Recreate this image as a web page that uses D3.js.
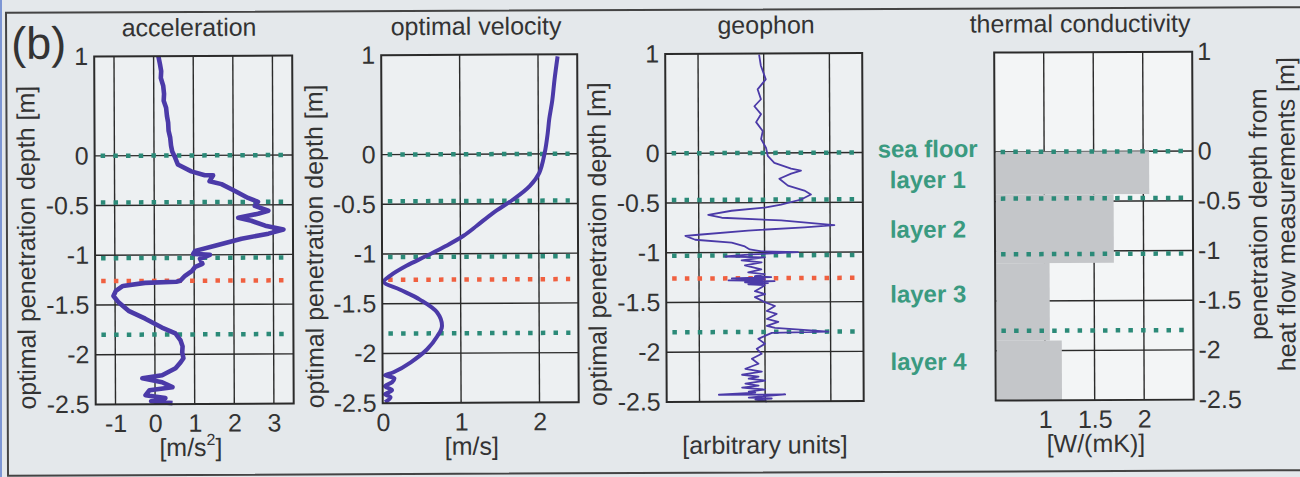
<!DOCTYPE html>
<html>
<head>
<meta charset="utf-8">
<script src="https://cdn.jsdelivr.net/npm/d3@7"></script>
<style>
  body { margin: 0; background: #e4e8eb; }
  svg { display: block; font-family: "Liberation Sans", Arial, sans-serif; }
</style>
</head>
<body>
<svg id="chart"></svg>
<script>
// depth axis shared by all four panels
const depthTicks = [1, 0, -0.5, -1, -1.5, -2, -2.5];
const depthGrid = [0, -0.5, -1, -1.5, -2];

// layer boundaries (teal) and the orange marker
const boundaryDepths = [0, -0.47, -1.03, -1.8];
const orangeDepth = [-1.26];

// acceleration [m/s2]
const accelDepth = [1.00, 0.92, 0.85, 0.78, 0.70, 0.62, 0.55, 0.48, 0.40, 0.33, 0.25, 0.18, 0.10, 0.04,
  -0.01, -0.09, -0.16, -0.20, -0.20, -0.26, -0.29, -0.36, -0.43, -0.47, -0.51, -0.56, -0.59, -0.63,
  -0.66, -0.71, -0.75, -0.79, -0.84, -0.91, -0.96, -0.99, -1.00, -1.04, -1.09, -1.12, -1.16, -1.21,
  -1.26, -1.27, -1.28, -1.31, -1.36, -1.41, -1.47, -1.56, -1.64, -1.73, -1.79, -1.86, -1.92, -1.98,
  -2.04, -2.08, -2.14, -2.21, -2.24, -2.28, -2.33, -2.36, -2.41, -2.44, -2.47, -2.49];
const accelValue = [0.12, 0.16, 0.19, 0.18, 0.24, 0.26, 0.25, 0.31, 0.33, 0.36, 0.37, 0.41, 0.43, 0.46,
  0.52, 0.60, 0.94, 1.28, 1.49, 1.40, 1.70, 2.04, 2.37, 2.62, 2.54, 2.88, 2.62, 2.12,
  2.45, 2.80, 3.26, 2.88, 2.20, 1.53, 1.03, 0.98, 1.40, 1.15, 1.21, 1.03, 0.95, 0.77,
  0.65, 0.55, -0.24, -0.80, -0.98, -1.04, -0.92, -0.66, -0.24, 0.18, 0.52, 0.65, 0.70, 0.69,
  0.72, 0.65, 0.52, 0.18, -0.32, 0.18, 0.44, -0.14, -0.24, 0.26, -0.10, 0.44];

// optimal velocity [m/s]
const veloDepth = [0.98, 0.75, 0.54, 0.35, 0.21, 0.01, -0.19, -0.32, -0.46, -0.59, -0.72, -0.82, -0.92,
  -1.02, -1.12, -1.22, -1.28, -1.36, -1.46, -1.59, -1.73, -1.83, -1.96, -2.09, -2.19, -2.22, -2.25,
  -2.29, -2.33, -2.37, -2.41, -2.44, -2.49];
const veloValue = [2.25, 2.21, 2.18, 2.14, 2.12, 2.08, 2.01, 1.89, 1.67, 1.42, 1.21, 1.04, 0.82,
  0.57, 0.31, 0.10, 0.02, 0.23, 0.48, 0.70, 0.76, 0.70, 0.57, 0.36, 0.14, 0.03, 0.15,
  0.12, 0.03, 0.12, 0.03, 0.10, 0.03];

// geophon [arbitrary units]
const geoDepth = [0.99, 0.88, 0.74, 0.64, 0.54, 0.47, 0.39, 0.31, 0.22, 0.14, 0.05, -0.03, -0.10, -0.16,
  -0.18, -0.21, -0.26, -0.33, -0.38, -0.42, -0.47, -0.52, -0.55, -0.58, -0.62, -0.65, -0.68, -0.73,
  -0.75, -0.78, -0.82, -0.83, -0.87, -0.90, -0.94, -0.97, -0.99, -1.00, -1.02, -1.04, -1.05, -1.08,
  -1.10, -1.13, -1.17, -1.20, -1.22, -1.24, -1.25, -1.26, -1.27, -1.28, -1.29, -1.30, -1.31, -1.32,
  -1.33, -1.35, -1.39, -1.42, -1.45, -1.50, -1.54, -1.59, -1.62, -1.67, -1.70, -1.74, -1.76, -1.80,
  -1.81, -1.84, -1.87, -1.92, -1.97, -2.02, -2.07, -2.12, -2.17, -2.20, -2.22, -2.23, -2.25, -2.27,
  -2.29, -2.31, -2.32, -2.34, -2.36, -2.38, -2.40, -2.41, -2.43, -2.43, -2.45, -2.46, -2.47, -2.48,
  -2.50];
const geoValue = [-0.14, -0.09, 0.06, -0.19, -0.09, -0.29, -0.09, -0.24, -0.04, -0.09, 0.06, 0.11, 0.31, 0.82,
  1.12, 0.82, 0.46, 0.72, 1.22, 1.42, 1.12, 0.51, 0.01, -1.00, -1.71, -1.30, 0.51, 2.13,
  1.22, -0.50, -2.01, -2.41, -2.11, -1.00, -0.60, -0.45, -0.09, 1.02, -0.40, -1.20, 0.01, -0.70,
  -0.09, -0.60, -0.10, -0.50, 0.00, -0.30, 0.20, -1.00, 0.00, -1.10, 0.30, -0.60, 0.10, -0.50,
  0.00, -0.09, -0.30, 0.01, -0.30, 0.00, 0.31, 0.06, 0.36, 0.06, 0.41, 0.06, 0.31, 1.93,
  0.21, 0.00, -0.20, 0.00, -0.25, -0.10, -0.40, -0.20, -0.60, -0.10, -0.50, -0.70, -0.20, -0.50,
  0.00, -0.40, -0.60, -0.20, -0.70, 0.00, -0.50, -0.30, -1.41, 0.61, -0.20, -0.50, 0.20, -0.30,
  0.05];

// thermal conductivity [W/(mK)] per layer
const condTop = [0, -0.43, -1.12, -1.9];
const condBottom = [-0.43, -1.12, -1.9, -2.5];
const condValue = [2.06, 1.7, 1.05, 1.17];

// layer names, placed at a depth next to the last panel
const layerNames = ["sea floor", "layer 1", "layer 2", "layer 3", "layer 4"];
const layerLabelDepth = [-0.05, -0.36, -0.86, -1.51, -2.19];

const W = 1300, H = 477;
const ink = "#2b2b2b";
const lineColor = "#4b3aa8";
const teal = "#2b8a78";
const orange = "#f06040";

const svg = d3.select("#chart").attr("width", W).attr("height", H);
svg.append("rect").attr("width", W).attr("height", H).attr("fill", "#e4e8eb");
svg.append("rect").attr("x", 0).attr("width", 2).attr("height", H).attr("fill", "#7d96d4");

// the scan is slightly tilted
const root = svg.append("g").attr("transform", "rotate(-0.25,650,240)");

root.append("rect")
  .attr("x", 7).attr("y", 10).attr("width", 1310).attr("height", 463)
  .attr("fill", "none").attr("stroke", "#444").attr("stroke-width", 2);

root.append("text")
  .attr("x", 12).attr("y", 56)
  .attr("font-size", 45).attr("fill", "#333")
  .text("(b)");

const yScale = d3.scaleLinear().domain([1, -2.5]).range([54, 402]);

const panels = [
  { range: [95, 293], domain: [-1.5, 3.5], grid: [-1, 0, 1, 2, 3], labels: [-1, 0, 1, 2, 3],
    title: "acceleration", titleX: 190, unit: "m/s", sup: "2", unitX: 190,
    yLabelX: 35, yLabelY: 245, fill: "#edf0f2" },
  { range: [382, 578], domain: [0, 2.5], grid: [1, 2], labels: [0, 1, 2],
    title: "optimal velocity", titleX: 477, unit: "m/s", unitX: 471,
    yLabelX: 323, yLabelY: 245, fill: "#edf0f2" },
  { range: [666, 863], domain: [-3, 3], grid: [-2, 0, 2], labels: [],
    title: "geophon", titleX: 767, unit: "arbitrary units", unitX: 764,
    yLabelX: 606, yLabelY: 244, fill: "#edf0f2" },
  { range: [995, 1193], domain: [0.5, 2.5], grid: [1, 1.5, 2], labels: [1, 1.5, 2],
    title: "thermal conductivity", titleX: 1081, unit: "W/(mK)", unitX: 1095,
    rightAxis: true, fill: "#f3f5f6" }
];

function drawPanel(p, idx) {
  const x = d3.scaleLinear().domain(p.domain).range(p.range);
  const [x0, x1] = p.range;
  const [yTop, yBot] = [yScale(1), yScale(-2.5)];
  const pg = root.append("g");

  pg.append("rect")
    .attr("x", x0).attr("y", yTop)
    .attr("width", x1 - x0).attr("height", yBot - yTop)
    .attr("fill", p.fill);

  // grid
  pg.selectAll(".vgrid").data(p.grid).enter()
    .append("line")
    .attr("x1", d => x(d)).attr("x2", d => x(d))
    .attr("y1", yTop).attr("y2", yBot)
    .attr("stroke", ink).attr("stroke-width", 1.4);

  pg.selectAll(".hgrid").data(depthGrid).enter()
    .append("line")
    .attr("x1", x0).attr("x2", x1)
    .attr("y1", d => yScale(d)).attr("y2", d => yScale(d))
    .attr("stroke", ink).attr("stroke-width", 1.4);

  if (idx === 3) {
    pg.selectAll(".cond").data(condValue).enter()
      .append("rect")
      .attr("x", x0 + 1)
      .attr("y", (d, i) => yScale(condTop[i]))
      .attr("width", d => x(d) - x0 - 1)
      .attr("height", (d, i) => yScale(condBottom[i]) - yScale(condTop[i]))
      .attr("fill", "#c4c6c9");
  }

  // dotted horizons
  const dots = idx === 3 ? boundaryDepths.map(d => ({ d, c: teal }))
    : boundaryDepths.map(d => ({ d, c: teal })).concat(orangeDepth.map(d => ({ d, c: orange })));
  pg.selectAll(".horizon").data(dots).enter()
    .append("line")
    .attr("x1", x0 + 6).attr("x2", x1 - 8)
    .attr("y1", d => yScale(d.d)).attr("y2", d => yScale(d.d))
    .attr("stroke", d => d.c)
    .attr("stroke-width", 4.5)
    .attr("stroke-dasharray", "4.5 8.2");

  // curves
  const line = d3.line().x(d => x(d[1])).y(d => yScale(d[0]));
  if (idx === 0) {
    pg.append("path").datum(d3.zip(accelDepth, accelValue))
      .attr("d", line).attr("fill", "none")
      .attr("stroke", lineColor).attr("stroke-width", 4.6).attr("stroke-linejoin", "round");
  }
  if (idx === 1) {
    pg.append("path").datum(d3.zip(veloDepth, veloValue))
      .attr("d", line.curve(d3.curveCatmullRom)).attr("fill", "none")
      .attr("stroke", lineColor).attr("stroke-width", 4).attr("stroke-linejoin", "round");
  }
  if (idx === 2) {
    pg.append("path").datum(d3.zip(geoDepth, geoValue))
      .attr("d", line).attr("fill", "none")
      .attr("stroke", lineColor).attr("stroke-width", 1.8).attr("stroke-linejoin", "round");
  }

  // frame
  pg.append("rect")
    .attr("x", x0).attr("y", yTop)
    .attr("width", x1 - x0).attr("height", yBot - yTop)
    .attr("fill", "none").attr("stroke", ink).attr("stroke-width", 2);

  // axes
  const yAxis = (p.rightAxis ? d3.axisRight(yScale) : d3.axisLeft(yScale))
    .tickValues(depthTicks).tickSize(0).tickPadding(p.rightAxis ? 5 : 6)
    .tickFormat(d => String(d));
  const yAxisG = pg.append("g")
    .attr("transform", `translate(${p.rightAxis ? x1 : x0},0)`)
    .call(yAxis);
  yAxisG.select(".domain").remove();
  yAxisG.selectAll("text").attr("font-size", 25).attr("fill", "#333")
    .attr("font-family", "Liberation Sans, Arial, sans-serif");

  const xAxis = d3.axisBottom(x).tickValues(p.labels).tickSize(0).tickPadding(10)
    .tickFormat(d => String(d));
  const xAxisG = pg.append("g")
    .attr("transform", `translate(0,${yBot})`)
    .call(xAxis);
  xAxisG.select(".domain").remove();
  xAxisG.selectAll("text").attr("font-size", 25).attr("fill", "#333")
    .attr("font-family", "Liberation Sans, Arial, sans-serif");

  // texts
  pg.append("text")
    .attr("x", p.titleX).attr("y", 34)
    .attr("text-anchor", "middle").attr("font-size", 25).attr("fill", "#333")
    .text(p.title);

  const unit = pg.append("text")
    .attr("x", p.unitX).attr("y", 454)
    .attr("text-anchor", "middle").attr("font-size", 25).attr("fill", "#333");
  unit.append("tspan").text("[" + p.unit);
  if (p.sup) {
    unit.append("tspan").attr("font-size", 16).attr("dy", -11).text(p.sup);
    unit.append("tspan").attr("dy", 11).text("]");
  } else {
    unit.append("tspan").text("]");
  }

  if (!p.rightAxis) {
    pg.append("text")
      .attr("transform", `translate(${p.yLabelX},${p.yLabelY}) rotate(-90)`)
      .attr("text-anchor", "middle").attr("font-size", 25).attr("fill", "#333")
      .text("optimal penetration depth [m]");
  } else {
    pg.append("text")
      .attr("transform", `translate(1267,217) rotate(-90)`)
      .attr("text-anchor", "middle").attr("font-size", 25).attr("fill", "#333")
      .text("penetration depth from");
    pg.append("text")
      .attr("transform", `translate(1295,217) rotate(-90)`)
      .attr("text-anchor", "middle").attr("font-size", 25).attr("fill", "#333")
      .text("heat flow measurements [m]");

    pg.selectAll(".layer").data(layerNames).enter()
      .append("text")
      .attr("x", 928)
      .attr("y", (d, i) => yScale(layerLabelDepth[i]))
      .attr("text-anchor", "middle")
      .attr("font-size", 24).attr("font-weight", "bold")
      .attr("fill", "#3a9a80")
      .text(d => d);
  }
}

panels.forEach(drawPanel);
</script>
</body>
</html>
